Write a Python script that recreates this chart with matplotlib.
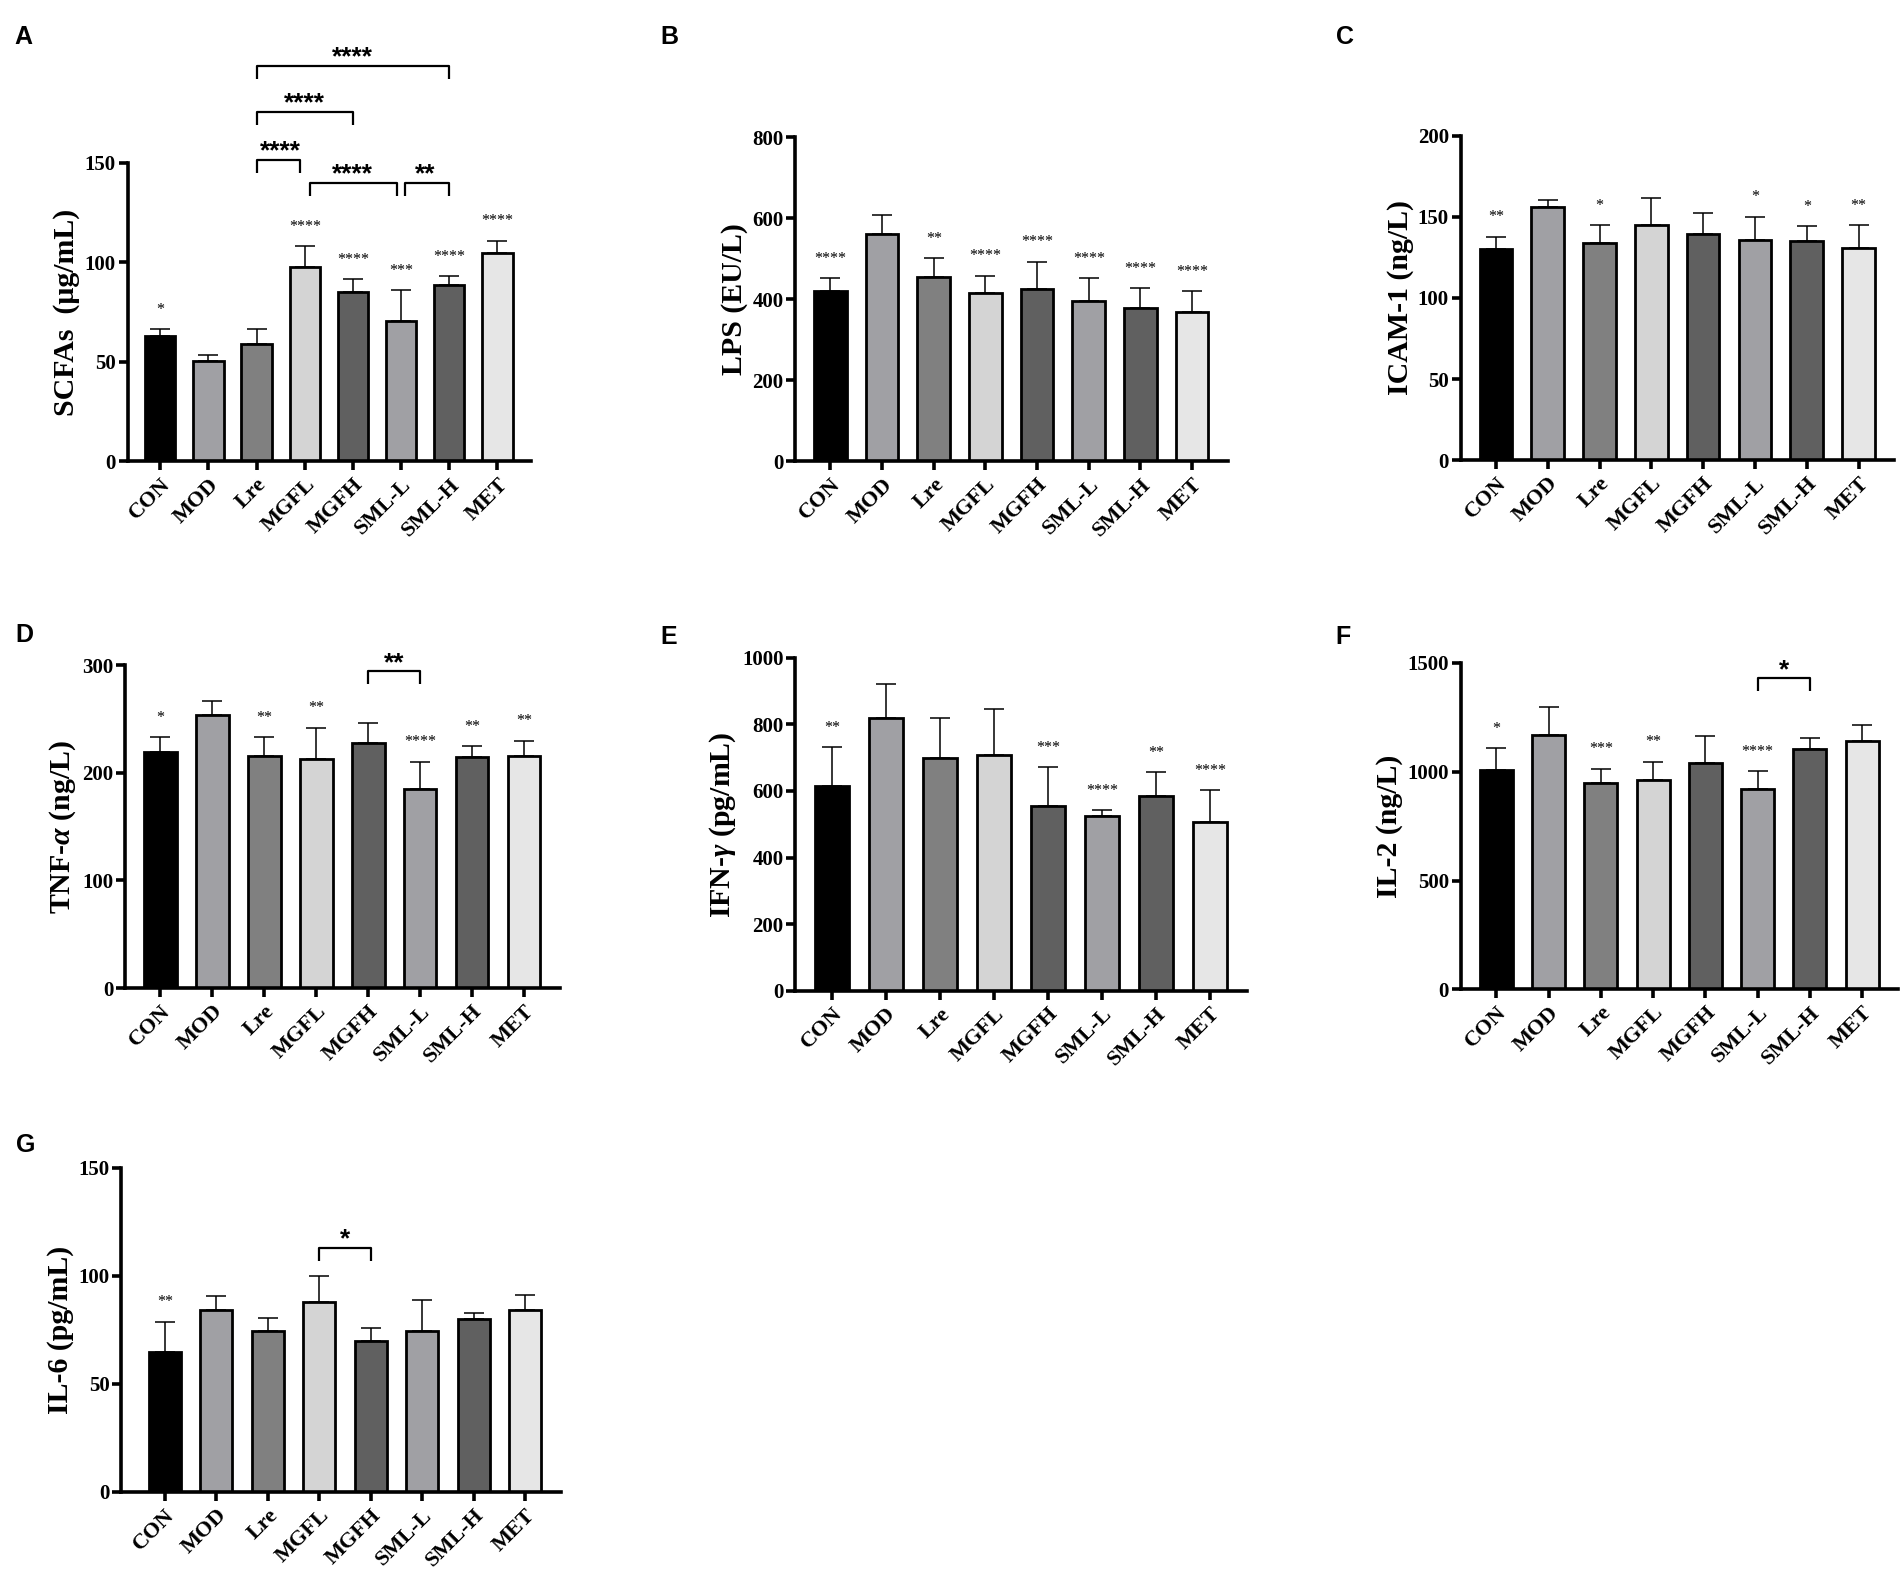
import matplotlib
matplotlib.use("Agg")
import matplotlib.pyplot as plt

plt.rcParams['font.family'] = 'Liberation Serif'
plt.rcParams['font.weight'] = 'bold'
plt.rcParams['mathtext.fontset'] = 'custom'
plt.rcParams['mathtext.it'] = 'Liberation Serif:italic:bold'
plt.rcParams['mathtext.rm'] = 'Liberation Serif:bold'

groups = ["CON", "MOD", "Lre", "MGFL", "MGFH", "SML-L", "SML-H", "MET"]
bar_colors = ["#000000", "#a0a0a4", "#808080", "#d4d4d4",
              "#606060", "#a0a0a4", "#606060", "#e6e6e6"]

# A - SCFAs
scfa_mean = [63.1, 50.5, 58.9, 97.6, 85.0, 70.5, 88.5, 104.5]
scfa_sd = [3.3, 3.1, 7.5, 10.4, 6.6, 15.6, 4.5, 6.3]
scfa_sig = ["*", "", "", "****", "****", "***", "****", "****"]

# B - LPS
lps_mean = [420, 562, 455, 416, 426, 395, 378, 369]
lps_sd = [32, 47, 47, 42, 67, 58, 49, 51]
lps_sig = ["****", "", "**", "****", "****", "****", "****", "****"]

# C - ICAM-1
icam_mean = [130.2, 156.2, 133.8, 144.9, 139.2, 136.0, 135.3, 130.8]
icam_sd = [7.7, 4.5, 11.3, 17.1, 13.4, 14.3, 9.0, 14.2]
icam_sig = ["**", "", "*", "", "", "*", "*", "**"]

# D - TNF-a
tnf_mean = [218.9, 253.3, 216.0, 212.7, 227.9, 185.4, 214.4, 215.6]
tnf_sd = [14.4, 13.8, 17.3, 29.3, 18.3, 25.1, 10.3, 14.2]
tnf_sig = ["*", "", "**", "**", "", "****", "**", "**"]

# E - IFN-g
ifn_mean = [615, 819, 700, 708, 556, 525, 586, 507]
ifn_sd = [116, 102, 120, 138, 116, 18, 71, 95]
ifn_sig = ["**", "", "", "", "***", "****", "**", "****"]

# F - IL-2
il2_mean = [1006, 1170, 947, 962, 1038, 922, 1104, 1142]
il2_sd = [102, 126, 67, 84, 128, 80, 50, 73]
il2_sig = ["*", "", "***", "**", "", "****", "", ""]

# G - IL-6
il6_mean = [64.6, 84.0, 74.3, 87.8, 70.0, 74.5, 80.2, 84.3]
il6_sd = [14.2, 6.8, 6.0, 12.0, 6.0, 14.1, 2.4, 6.7]
il6_sig = ["**", "", "", "", "", "", "", ""]

# comparison brackets: (group i, group j, label, height)
scfa_brackets = [(2, 3, "****", 151.4), (2, 4, "****", 175.6), (2, 6, "****", 198.7),
                 (3, 5, "****", 140.0), (5, 6, "**", 140.0)]
tnf_brackets = [(4, 5, "**", 294.2)]
il2_brackets = [(5, 6, "*", 1428)]
il6_brackets = [(3, 4, "*", 113)]

# end shrink of each bracket (left, right) where it shares a bar with a neighbour
scfa_shrink = [(0, 0.09), (0, 0), (0, 0), (0.1, 0.09), (0.09, 0)]


def draw_panel(rect, letter, letter_xy, mean, sd, sig, ymax, step, ylabel,
               brackets=(), shrink=None, xlim=(-0.68, 7.69)):
    ax = fig.add_axes(rect)
    x = list(range(len(groups)))
    ax.bar(x, mean, width=0.63, color=bar_colors, edgecolor='black',
           linewidth=2.0, zorder=2)
    ax.errorbar(x, mean, yerr=[[0] * len(mean), sd], fmt='none', ecolor='black',
                elinewidth=1.1, capsize=7.5, capthick=1.1, zorder=3)
    ax.set_xlim(*xlim)
    ax.set_ylim(0, ymax)
    ax.set_yticks(range(0, ymax + 1, step))
    ax.set_xticks(x)
    ax.set_xticklabels(groups, rotation=45, ha='right', rotation_mode='anchor')
    ax.tick_params(axis='both', width=2.6, length=6.5, pad=2)
    ax.tick_params(axis='x', labelsize=16, pad=3)
    ax.tick_params(axis='y', labelsize=15)
    for s in ['top', 'right']:
        ax.spines[s].set_visible(False)
    for s in ['left', 'bottom']:
        ax.spines[s].set_linewidth(2.6)
    ax.set_ylabel(ylabel, fontsize=21.5, fontweight='bold', labelpad=3)

    for xi, m, e, t in zip(x, mean, sd, sig):
        if t:
            ax.annotate(t, (xi, m + e), xytext=(0, 11), textcoords='offset points',
                        ha='center', va='baseline', fontsize=11.5, fontweight='normal',
                        annotation_clip=False)

    leg = 13 / ax.bbox.height * ymax
    for k, (i, j, label, y) in enumerate(brackets):
        s1, s2 = shrink[k] if shrink else (0, 0)
        ax.plot([i + s1, i + s1, j - s2, j - s2], [y - leg, y, y, y - leg],
                color='black', lw=1.6, clip_on=False, solid_capstyle='butt')
        ax.annotate(label, ((i + j) / 2, y), xytext=(0, 1), textcoords='offset points',
                    ha='center', va='baseline', fontsize=19, family='Liberation Sans',
                    fontweight='bold', annotation_clip=False)

    fig.text(letter_xy[0], letter_xy[1], letter, family='Liberation Sans',
             fontweight='bold', fontsize=18, va='top')
    return ax


fig = plt.figure(figsize=(19.04, 15.83), dpi=100)

draw_panel([0.067, 0.7086, 0.2117, 0.1886], "A", (0.0077, 0.984),
           scfa_mean, scfa_sd, scfa_sig, 150, 50, "SCFAs  (μg/mL)",
           scfa_brackets, scfa_shrink)
draw_panel([0.4177, 0.7086, 0.2271, 0.2047], "B", (0.347, 0.984),
           lps_mean, lps_sd, lps_sig, 800, 200, "LPS (EU/L)")
draw_panel([0.7672, 0.7094, 0.2277, 0.2047], "C", (0.7015, 0.984),
           icam_mean, icam_sd, icam_sig, 200, 50, "ICAM-1 (ng/L)")
draw_panel([0.0657, 0.3758, 0.2283, 0.2040], "D", (0.0083, 0.6066),
           tnf_mean, tnf_sd, tnf_sig, 300, 100, r"TNF-$\alpha$ (ng/L)",
           tnf_brackets)
draw_panel([0.4177, 0.3742, 0.2373, 0.2102], "E", (0.347, 0.605),
           ifn_mean, ifn_sd, ifn_sig, 1000, 200, r"IFN-$\gamma$ (pg/mL)")
draw_panel([0.7672, 0.3750, 0.2298, 0.2063], "F", (0.7015, 0.605),
           il2_mean, il2_sd, il2_sig, 1500, 500, "IL-2 (ng/L)",
           il2_brackets)
draw_panel([0.0638, 0.0575, 0.2310, 0.2048], "G", (0.0083, 0.2845),
           il6_mean, il6_sd, il6_sig, 150, 50, "IL-6 (pg/mL)",
           il6_brackets, xlim=(-0.84, 7.7))

fig.savefig("out.png", dpi=100)
